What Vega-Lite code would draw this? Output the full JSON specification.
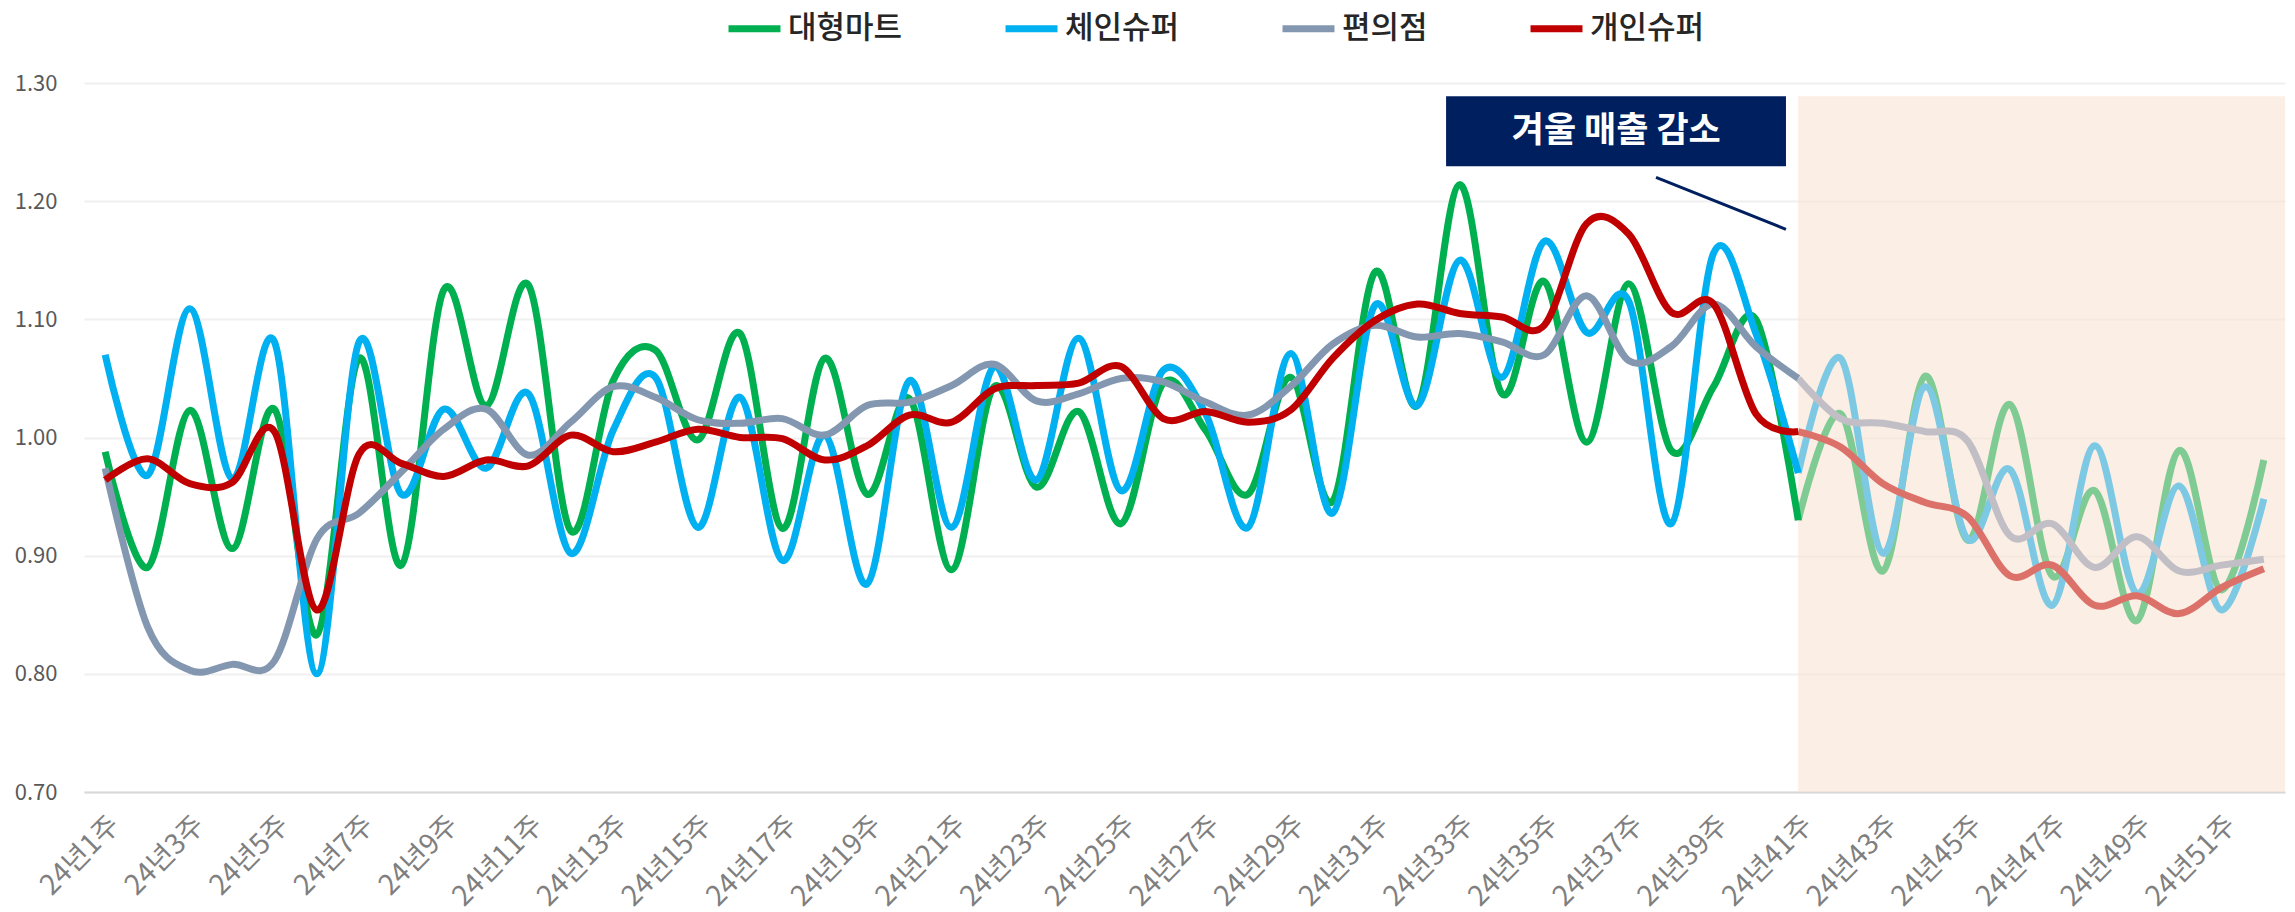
{
  "$schema": "https://vega.github.io/schema/vega-lite/v6.json",
  "width": 2201,
  "height": 709,
  "autosize": {"type": "none"},
  "padding": {"left": 84, "top": 83, "right": 10, "bottom": 120},
  "background": "white",
  "config": {
    "font": "Noto Sans CJK KR",
    "view": {"stroke": null}
  },
  "resolve": {"scale": {"color": "independent", "strokeWidth": "independent"}},
  "datasets": {
    "sales": [
      {"w":1,"s":"대형마트","v":0.988},{"w":1,"s":"체인슈퍼","v":1.070},{"w":1,"s":"편의점","v":0.974},{"w":1,"s":"개인슈퍼","v":0.964},
      {"w":2,"s":"대형마트","v":0.890},{"w":2,"s":"체인슈퍼","v":0.968},{"w":2,"s":"편의점","v":0.840},{"w":2,"s":"개인슈퍼","v":0.982},
      {"w":3,"s":"대형마트","v":1.023},{"w":3,"s":"체인슈퍼","v":1.109},{"w":3,"s":"편의점","v":0.803},{"w":3,"s":"개인슈퍼","v":0.961},
      {"w":4,"s":"대형마트","v":0.906},{"w":4,"s":"체인슈퍼","v":0.965},{"w":4,"s":"편의점","v":0.808},{"w":4,"s":"개인슈퍼","v":0.962},
      {"w":5,"s":"대형마트","v":1.024},{"w":5,"s":"체인슈퍼","v":1.081},{"w":5,"s":"편의점","v":0.811},{"w":5,"s":"개인슈퍼","v":1.005},
      {"w":6,"s":"대형마트","v":0.833},{"w":6,"s":"체인슈퍼","v":0.800},{"w":6,"s":"편의점","v":0.914},{"w":6,"s":"개인슈퍼","v":0.854},
      {"w":7,"s":"대형마트","v":1.067},{"w":7,"s":"체인슈퍼","v":1.081},{"w":7,"s":"편의점","v":0.936},{"w":7,"s":"개인슈퍼","v":0.986},
      {"w":8,"s":"대형마트","v":0.892},{"w":8,"s":"체인슈퍼","v":0.952},{"w":8,"s":"편의점","v":0.971},{"w":8,"s":"개인슈퍼","v":0.978},
      {"w":9,"s":"대형마트","v":1.125},{"w":9,"s":"체인슈퍼","v":1.024},{"w":9,"s":"편의점","v":1.007},{"w":9,"s":"개인슈퍼","v":0.967},
      {"w":10,"s":"대형마트","v":1.027},{"w":10,"s":"체인슈퍼","v":0.974},{"w":10,"s":"편의점","v":1.024},{"w":10,"s":"개인슈퍼","v":0.981},
      {"w":11,"s":"대형마트","v":1.129},{"w":11,"s":"체인슈퍼","v":1.037},{"w":11,"s":"편의점","v":0.985},{"w":11,"s":"개인슈퍼","v":0.976},
      {"w":12,"s":"대형마트","v":0.921},{"w":12,"s":"체인슈퍼","v":0.902},{"w":12,"s":"편의점","v":1.013},{"w":12,"s":"개인슈퍼","v":1.002},
      {"w":13,"s":"대형마트","v":1.048},{"w":13,"s":"체인슈퍼","v":1.006},{"w":13,"s":"편의점","v":1.043},{"w":13,"s":"개인슈퍼","v":0.988},
      {"w":14,"s":"대형마트","v":1.074},{"w":14,"s":"체인슈퍼","v":1.051},{"w":14,"s":"편의점","v":1.034},{"w":14,"s":"개인슈퍼","v":0.996},
      {"w":15,"s":"대형마트","v":0.998},{"w":15,"s":"체인슈퍼","v":0.924},{"w":15,"s":"편의점","v":1.015},{"w":15,"s":"개인슈퍼","v":1.007},
      {"w":16,"s":"대형마트","v":1.088},{"w":16,"s":"체인슈퍼","v":1.034},{"w":16,"s":"편의점","v":1.012},{"w":16,"s":"개인슈퍼","v":1.000},
      {"w":17,"s":"대형마트","v":0.923},{"w":17,"s":"체인슈퍼","v":0.896},{"w":17,"s":"편의점","v":1.016},{"w":17,"s":"개인슈퍼","v":0.999},
      {"w":18,"s":"대형마트","v":1.067},{"w":18,"s":"체인슈퍼","v":1.002},{"w":18,"s":"편의점","v":1.002},{"w":18,"s":"개인슈퍼","v":0.981},
      {"w":19,"s":"대형마트","v":0.952},{"w":19,"s":"체인슈퍼","v":0.876},{"w":19,"s":"편의점","v":1.027},{"w":19,"s":"개인슈퍼","v":0.993},
      {"w":20,"s":"대형마트","v":1.033},{"w":20,"s":"체인슈퍼","v":1.048},{"w":20,"s":"편의점","v":1.030},{"w":20,"s":"개인슈퍼","v":1.019},
      {"w":21,"s":"대형마트","v":0.888},{"w":21,"s":"체인슈퍼","v":0.924},{"w":21,"s":"편의점","v":1.044},{"w":21,"s":"개인슈퍼","v":1.013},
      {"w":22,"s":"대형마트","v":1.043},{"w":22,"s":"체인슈퍼","v":1.060},{"w":22,"s":"편의점","v":1.062},{"w":22,"s":"개인슈퍼","v":1.041},
      {"w":23,"s":"대형마트","v":0.958},{"w":23,"s":"체인슈퍼","v":0.964},{"w":23,"s":"편의점","v":1.031},{"w":23,"s":"개인슈퍼","v":1.044},
      {"w":24,"s":"대형마트","v":1.022},{"w":24,"s":"체인슈퍼","v":1.084},{"w":24,"s":"편의점","v":1.037},{"w":24,"s":"개인슈퍼","v":1.046},
      {"w":25,"s":"대형마트","v":0.927},{"w":25,"s":"체인슈퍼","v":0.955},{"w":25,"s":"편의점","v":1.050},{"w":25,"s":"개인슈퍼","v":1.060},
      {"w":26,"s":"대형마트","v":1.046},{"w":26,"s":"체인슈퍼","v":1.057},{"w":26,"s":"편의점","v":1.047},{"w":26,"s":"개인슈퍼","v":1.016},
      {"w":27,"s":"대형마트","v":1.006},{"w":27,"s":"체인슈퍼","v":1.020},{"w":27,"s":"편의점","v":1.030},{"w":27,"s":"개인슈퍼","v":1.022},
      {"w":28,"s":"대형마트","v":0.952},{"w":28,"s":"체인슈퍼","v":0.924},{"w":28,"s":"편의점","v":1.019},{"w":28,"s":"개인슈퍼","v":1.013},
      {"w":29,"s":"대형마트","v":1.051},{"w":29,"s":"체인슈퍼","v":1.071},{"w":29,"s":"편의점","v":1.043},{"w":29,"s":"개인슈퍼","v":1.023},
      {"w":30,"s":"대형마트","v":0.946},{"w":30,"s":"체인슈퍼","v":0.936},{"w":30,"s":"편의점","v":1.079},{"w":30,"s":"개인슈퍼","v":1.067},
      {"w":31,"s":"대형마트","v":1.140},{"w":31,"s":"체인슈퍼","v":1.112},{"w":31,"s":"편의점","v":1.095},{"w":31,"s":"개인슈퍼","v":1.099},
      {"w":32,"s":"대형마트","v":1.027},{"w":32,"s":"체인슈퍼","v":1.027},{"w":32,"s":"편의점","v":1.085},{"w":32,"s":"개인슈퍼","v":1.113},
      {"w":33,"s":"대형마트","v":1.214},{"w":33,"s":"체인슈퍼","v":1.150},{"w":33,"s":"편의점","v":1.088},{"w":33,"s":"개인슈퍼","v":1.105},
      {"w":34,"s":"대형마트","v":1.037},{"w":34,"s":"체인슈퍼","v":1.051},{"w":34,"s":"편의점","v":1.081},{"w":34,"s":"개인슈퍼","v":1.102},
      {"w":35,"s":"대형마트","v":1.132},{"w":35,"s":"체인슈퍼","v":1.166},{"w":35,"s":"편의점","v":1.070},{"w":35,"s":"개인슈퍼","v":1.095},
      {"w":36,"s":"대형마트","v":0.996},{"w":36,"s":"체인슈퍼","v":1.089},{"w":36,"s":"편의점","v":1.120},{"w":36,"s":"개인슈퍼","v":1.181},
      {"w":37,"s":"대형마트","v":1.130},{"w":37,"s":"체인슈퍼","v":1.115},{"w":37,"s":"편의점","v":1.065},{"w":37,"s":"개인슈퍼","v":1.172},
      {"w":38,"s":"대형마트","v":0.989},{"w":38,"s":"체인슈퍼","v":0.927},{"w":38,"s":"편의점","v":1.077},{"w":38,"s":"개인슈퍼","v":1.106},
      {"w":39,"s":"대형마트","v":1.043},{"w":39,"s":"체인슈퍼","v":1.156},{"w":39,"s":"편의점","v":1.113},{"w":39,"s":"개인슈퍼","v":1.113},
      {"w":40,"s":"대형마트","v":1.100},{"w":40,"s":"체인슈퍼","v":1.088},{"w":40,"s":"편의점","v":1.077},{"w":40,"s":"개인슈퍼","v":1.020},
      {"w":41,"s":"대형마트","v":0.930},{"w":41,"s":"체인슈퍼","v":0.970},{"w":41,"s":"편의점","v":1.050},{"w":41,"s":"개인슈퍼","v":1.005},
      {"w":42,"s":"대형마트","v":1.020},{"w":42,"s":"체인슈퍼","v":1.067},{"w":42,"s":"편의점","v":1.016},{"w":42,"s":"개인슈퍼","v":0.992},
      {"w":43,"s":"대형마트","v":0.887},{"w":43,"s":"체인슈퍼","v":0.902},{"w":43,"s":"편의점","v":1.012},{"w":43,"s":"개인슈퍼","v":0.961},
      {"w":44,"s":"대형마트","v":1.052},{"w":44,"s":"체인슈퍼","v":1.043},{"w":44,"s":"편의점","v":1.005},{"w":44,"s":"개인슈퍼","v":0.945},
      {"w":45,"s":"대형마트","v":0.913},{"w":45,"s":"체인슈퍼","v":0.914},{"w":45,"s":"편의점","v":0.997},{"w":45,"s":"개인슈퍼","v":0.933},
      {"w":46,"s":"대형마트","v":1.028},{"w":46,"s":"체인슈퍼","v":0.973},{"w":46,"s":"편의점","v":0.917},{"w":46,"s":"개인슈퍼","v":0.883},
      {"w":47,"s":"대형마트","v":0.883},{"w":47,"s":"체인슈퍼","v":0.858},{"w":47,"s":"편의점","v":0.927},{"w":47,"s":"개인슈퍼","v":0.892},
      {"w":48,"s":"대형마트","v":0.955},{"w":48,"s":"체인슈퍼","v":0.993},{"w":48,"s":"편의점","v":0.890},{"w":48,"s":"개인슈퍼","v":0.858},
      {"w":49,"s":"대형마트","v":0.845},{"w":49,"s":"체인슈퍼","v":0.868},{"w":49,"s":"편의점","v":0.916},{"w":49,"s":"개인슈퍼","v":0.866},
      {"w":50,"s":"대형마트","v":0.989},{"w":50,"s":"체인슈퍼","v":0.959},{"w":50,"s":"편의점","v":0.887},{"w":50,"s":"개인슈퍼","v":0.851},
      {"w":51,"s":"대형마트","v":0.871},{"w":51,"s":"체인슈퍼","v":0.854},{"w":51,"s":"편의점","v":0.892},{"w":51,"s":"개인슈퍼","v":0.873},
      {"w":52,"s":"대형마트","v":0.981},{"w":52,"s":"체인슈퍼","v":0.948},{"w":52,"s":"편의점","v":0.897},{"w":52,"s":"개인슈퍼","v":0.889}
    ],
    "shade": [{"x": 41, "x2": 52.5, "y": 0.70, "y2": 1.2887}],
    "box": [{"x": 32.68, "x2": 40.71, "y": 1.2295, "y2": 1.2887, "xc": 36.7, "yc": 1.259, "label": "겨울 매출 감소"}],
    "pointer": [{"x": 37.64, "x2": 40.71, "y": 1.2202, "y2": 1.1762}]
  },
  "layer": [
    {
      "data": {"name": "shade"},
      "mark": {"type": "rect", "fill": "#F8E3D4", "opacity": 0.6},
      "encoding": {
        "x": {"field": "x", "type": "quantitative", "scale": {"domain": [0.5, 52.5], "nice": false, "zero": false},
          "axis": {
            "values": [1,3,5,7,9,11,13,15,17,19,21,23,25,27,29,31,33,35,37,39,41,43,45,47,49,51],
            "labelExpr": "'24년' + datum.value + '주'",
            "labelAngle": -45,
            "labelFontSize": 28,
            "labelColor": "#7F7F7F",
            "labelPadding": 19,
            "labelDx": -12,
            "ticks": false,
            "tickSize": 0,
            "grid": false,
            "domainColor": "#D9D9D9",
            "domainWidth": 2,
            "title": null,
            "labelOverlap": false,
            "labelBound": false,
            "labelFlush": false
          }},
        "x2": {"field": "x2"},
        "y": {"field": "y", "type": "quantitative", "scale": {"domain": [0.7, 1.3], "nice": false, "zero": false},
          "axis": {
            "values": [0.7, 0.8, 0.9, 1.0, 1.1, 1.2, 1.3],
            "format": ".2f",
            "labelFontSize": 22,
            "labelColor": "#595959",
            "labelPadding": 27,
            "ticks": false,
            "tickSize": 0,
            "domain": false,
            "gridColor": "#F0F0F0",
            "gridWidth": 2,
            "title": null
          }},
        "y2": {"field": "y2"}
      }
    },
    {
      "data": {"name": "sales"},
      "transform": [{"filter": "datum.w >= 41"}],
      "mark": {"type": "line", "interpolate": "cardinal", "tension": 0, "strokeCap": "butt", "strokeJoin": "round"},
      "encoding": {
        "x": {"field": "w", "type": "quantitative", "scale": {"domain": [0.5, 52.5], "nice": false, "zero": false}},
        "y": {"field": "v", "type": "quantitative", "scale": {"domain": [0.7, 1.3], "nice": false, "zero": false}},
        "color": {
          "field": "s", "type": "nominal",
          "scale": {"domain": ["대형마트", "체인슈퍼", "편의점", "개인슈퍼"], "range": ["#7FCB93", "#7DC9E4", "#C1BFC5", "#DC7169"]},
          "legend": null
        },
        "strokeWidth": {
          "field": "s", "type": "nominal",
          "scale": {"domain": ["대형마트", "체인슈퍼", "편의점", "개인슈퍼"], "range": [7, 7, 7.5, 8]},
          "legend": null
        },
        "detail": {"field": "s"}
      }
    },
    {
      "data": {"name": "sales"},
      "transform": [{"filter": "datum.w <= 41"}],
      "mark": {"type": "line", "interpolate": "cardinal", "tension": 0, "strokeCap": "butt", "strokeJoin": "round"},
      "encoding": {
        "x": {"field": "w", "type": "quantitative", "scale": {"domain": [0.5, 52.5], "nice": false, "zero": false}},
        "y": {"field": "v", "type": "quantitative", "scale": {"domain": [0.7, 1.3], "nice": false, "zero": false}},
        "color": {
          "field": "s", "type": "nominal",
          "scale": {"domain": ["대형마트", "체인슈퍼", "편의점", "개인슈퍼"], "range": ["#00B050", "#00B0F0", "#8497B0", "#C00000"]},
          "legend": {
            "orient": "none",
            "direction": "horizontal",
            "legendX": 641,
            "legendY": -84,
            "title": null,
            "symbolType": "stroke",
            "symbolSize": 2700,
            "symbolStrokeWidth": 8,
            "symbolOpacity": 1,
            "labelFontSize": 31,
            "labelColor": "#262626",
            "labelFontWeight": 500,
            "labelOffset": 4,
            "columnPadding": 88,
            "padding": 0,
            "labelLimit": 400
          }
        },
        "strokeWidth": {
          "field": "s", "type": "nominal",
          "scale": {"domain": ["대형마트", "체인슈퍼", "편의점", "개인슈퍼"], "range": [7, 7, 7.5, 8]},
          "legend": null
        },
        "detail": {"field": "s"}
      }
    },
    {
      "data": {"name": "box"},
      "mark": {"type": "rect", "fill": "#001F5F"},
      "encoding": {
        "x": {"field": "x", "type": "quantitative", "scale": {"domain": [0.5, 52.5], "nice": false, "zero": false}},
        "x2": {"field": "x2"},
        "y": {"field": "y", "type": "quantitative", "scale": {"domain": [0.7, 1.3], "nice": false, "zero": false}},
        "y2": {"field": "y2"}
      }
    },
    {
      "data": {"name": "box"},
      "mark": {"type": "text", "color": "white", "fontSize": 35, "fontWeight": "bold", "align": "center", "baseline": "middle"},
      "encoding": {
        "x": {"field": "xc", "type": "quantitative", "scale": {"domain": [0.5, 52.5], "nice": false, "zero": false}},
        "y": {"field": "yc", "type": "quantitative", "scale": {"domain": [0.7, 1.3], "nice": false, "zero": false}},
        "text": {"field": "label"}
      }
    },
    {
      "data": {"name": "pointer"},
      "mark": {"type": "rule", "color": "#001F5F", "strokeWidth": 3},
      "encoding": {
        "x": {"field": "x", "type": "quantitative", "scale": {"domain": [0.5, 52.5], "nice": false, "zero": false}},
        "x2": {"field": "x2"},
        "y": {"field": "y", "type": "quantitative", "scale": {"domain": [0.7, 1.3], "nice": false, "zero": false}},
        "y2": {"field": "y2"}
      }
    }
  ]
}
